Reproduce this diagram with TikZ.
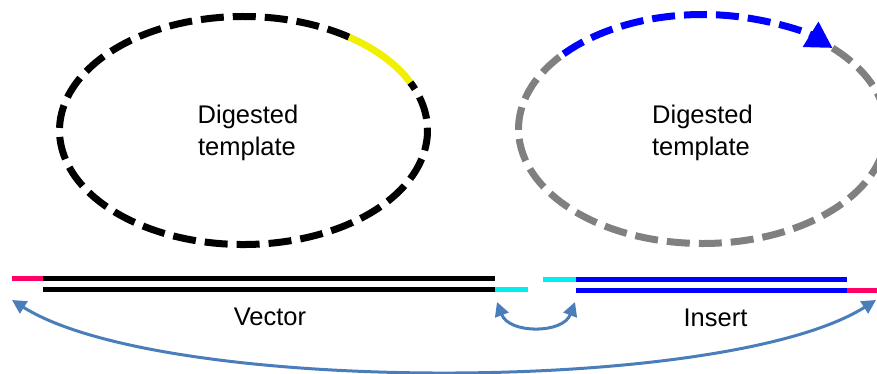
\documentclass[tikz,border=0pt]{standalone}
\usepackage{fontspec}
\setmainfont{Liberation Sans}
\usetikzlibrary{arrows.meta}
\definecolor{pinkc}{RGB}{255,0,102}
\definecolor{cyanc}{RGB}{0,238,238}
\definecolor{yellowc}{RGB}{240,240,0}
\definecolor{grayc}{RGB}{128,128,128}
\definecolor{arrowc}{RGB}{74,126,187}
\tikzset{
  ring/.style={line width=7pt, dash pattern=on 23pt off 9pt},
  strand/.style={line width=5pt},
  link/.style={draw=arrowc, line width=3pt, {Triangle[length=14pt,width=14pt]}-{Triangle[length=14pt,width=14pt]}},
  lbl/.style={font=\fontsize{25.5}{31}\selectfont, inner sep=0pt, anchor=base}
}
\begin{document}
\begin{tikzpicture}[x=1pt,y=1pt]
\useasboundingbox (0,0) rectangle (877,-373);
\begin{scope}
\clip (0,0) rectangle (877,-373);
% left ellipse
\coordinate (lc) at (243.5,-130.5);
\draw[ring, black] (lc) ++(55:184 and 114) arc[start angle=55, end angle=385, x radius=184, y radius=114];
\draw[yellowc, line width=7pt] (lc) ++(25:184 and 114) arc[start angle=25, end angle=55, x radius=184, y radius=114];
% right ellipse
\coordinate (rc) at (702.5,-129);
\draw[ring, grayc] (rc) ++(45:184 and 114.5) arc[start angle=45, end angle=-221, x radius=184, y radius=114.5];
\draw[ring, blue, -{Triangle[length=26pt,width=28pt]}] (rc) ++(139:184 and 114.5) arc[start angle=139, end angle=45, x radius=184, y radius=114.5];
\end{scope}
% labels
\node[lbl] (d1) at (248,-123) {Digested};
\node[lbl] (t1) at (247,-155) {template};
\node[lbl] (d2) at (702.5,-123) {Digested};
\node[lbl] (t2) at (701,-155) {template};
\node[lbl] (vec) at (270,-325.5) {Vector};
\node[lbl] (ins) at (715.5,-326) {Insert};
% strands
\draw[strand, pinkc] (12,-278.5) -- (43,-278.5);
\draw[strand, black] (43,-278.5) -- (495,-278.5);
\draw[strand, black] (43,-289.5) -- (495,-289.5);
\draw[strand, cyanc] (495,-289) -- (528,-289);
\draw[strand, cyanc] (543,-279) -- (576,-279);
\draw[strand, blue] (576,-279) -- (847,-279);
\draw[strand, blue] (576,-290) -- (847,-290);
\draw[strand, pinkc] (847,-290) -- (877,-290);
% connectors
\coordinate (bigL) at (12,-300);
\coordinate (bigR) at (876,-300);
\coordinate (smL) at (497,-302);
\coordinate (smR) at (575,-302);
\draw[link] (bigL) .. controls +(150,-95) and +(-150,-95) .. (bigR);
\draw[link] (smL) .. controls +(12,-32) and +(-12,-32) .. (smR);
\end{tikzpicture}
\end{document}
